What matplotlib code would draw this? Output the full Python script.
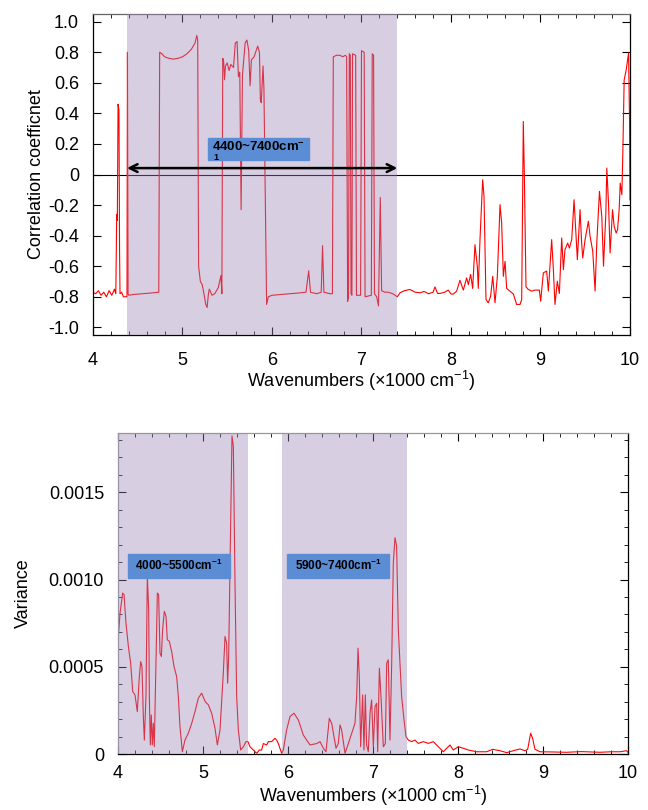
import matplotlib.pyplot as plt
import numpy as np
from matplotlib.ticker import MultipleLocator, FuncFormatter
from matplotlib.patches import Rectangle

plt.rcParams['font.family'] = ['Liberation Sans', 'DejaVu Sans']
plt.rcParams['mathtext.fontset'] = 'custom'
plt.rcParams['mathtext.rm'] = 'Liberation Sans'
plt.rcParams['mathtext.it'] = 'Liberation Sans:italic'
plt.rcParams['mathtext.bf'] = 'Liberation Sans:bold'

# correlation coefficient vs wavenumber (x1000 cm-1)
corr_x = [4.00, 4.03, 4.06, 4.09, 4.12, 4.15, 4.18, 4.21, 4.24, 4.255, 4.265, 4.272, 4.28, 4.29,
          4.297, 4.302, 4.32, 4.34, 4.36,
          4.38, 4.385, 4.392, 4.40, 4.45, 4.55, 4.65, 4.735, 4.745, 4.77, 4.80, 4.85, 4.90, 4.95,
          5.00, 5.05, 5.10, 5.14, 5.16, 5.17, 5.18, 5.20, 5.22, 5.24, 5.26, 5.275, 5.29, 5.30,
          5.33, 5.36, 5.40, 5.43, 5.44, 5.45, 5.46, 5.47, 5.48, 5.50, 5.52, 5.54, 5.57, 5.59,
          5.61, 5.625, 5.64, 5.655, 5.67, 5.70, 5.72, 5.74, 5.755, 5.77, 5.80, 5.84, 5.86, 5.87,
          5.88, 5.90, 5.91, 5.925, 5.94, 5.96, 6.00, 6.10, 6.20, 6.30, 6.38, 6.41, 6.43, 6.50,
          6.55, 6.565, 6.58, 6.65, 6.675, 6.685, 6.72, 6.76, 6.79, 6.82, 6.834, 6.845, 6.855,
          6.864, 6.875, 6.883, 6.893, 6.90, 6.935, 6.944, 6.99, 7.00, 7.03, 7.04, 7.11, 7.12,
          7.135, 7.145, 7.17, 7.19, 7.21, 7.225, 7.26, 7.30, 7.35, 7.40,
          7.43, 7.48, 7.54, 7.60, 7.654, 7.70, 7.75, 7.80, 7.821, 7.85, 7.877, 7.93, 7.970,
          8.00, 8.026, 8.063, 8.100, 8.138, 8.175, 8.194, 8.220, 8.242, 8.268, 8.294, 8.305,
          8.324, 8.354, 8.369, 8.391, 8.417, 8.443, 8.466, 8.492, 8.518, 8.548, 8.566, 8.585,
          8.604, 8.622, 8.659, 8.697, 8.734, 8.771, 8.790, 8.808, 8.820, 8.838, 8.864, 8.902,
          8.939, 8.987, 9.002, 9.032, 9.069, 9.088, 9.125, 9.144, 9.162, 9.188, 9.211, 9.237,
          9.256, 9.274, 9.304, 9.323, 9.349, 9.375, 9.397, 9.412, 9.442, 9.460, 9.472, 9.498,
          9.535, 9.554, 9.584, 9.610, 9.629, 9.659, 9.685, 9.704, 9.730, 9.741, 9.760, 9.778,
          9.805, 9.823, 9.846, 9.861, 9.879, 9.891, 9.909, 9.920, 9.935, 9.958, 9.984, 9.995,
          10.0]
corr_y = [-0.77, -0.78, -0.76, -0.79, -0.77, -0.80, -0.76, -0.79, -0.75, -0.78, -0.26, -0.30, 0.46, 0.42,
          -0.50, -0.78, -0.77, -0.80, -0.80,
          -0.80, 0.80, -0.78, -0.79, -0.785, -0.78, -0.775, -0.77, 0.80, 0.79, 0.77, 0.76, 0.755, 0.76,
          0.77, 0.79, 0.82, 0.86, 0.91, 0.88, -0.60, -0.70, -0.72, -0.78, -0.85, -0.87, -0.78, -0.75,
          -0.79, -0.78, -0.74, -0.66, -0.78, 0.76, 0.74, 0.62, 0.71, 0.73, 0.68, 0.72, 0.70, 0.86,
          0.87, 0.64, 0.67, -0.23, 0.65, 0.86, 0.88, 0.81, 0.58, 0.75, 0.77, 0.84, 0.80, 0.49,
          0.47, 0.71, 0.56, -0.16, -0.85, -0.80, -0.79, -0.785, -0.78, -0.775, -0.77, -0.63, -0.77, -0.78,
          -0.77, -0.465, -0.77, -0.78, -0.78, 0.77, 0.78, 0.78, 0.77, 0.78, 0.77, -0.83, -0.80,
          0.79, 0.78, -0.78, -0.79, 0.79, 0.78, -0.79, -0.79, 0.81, 0.80, -0.80, -0.79, 0.79,
          0.78, -0.78, -0.80, -0.86, -0.15, -0.76, -0.77, -0.77, -0.78, -0.80,
          -0.774, -0.76, -0.752, -0.77, -0.774, -0.765, -0.78, -0.77, -0.735, -0.778, -0.778, -0.77, -0.756,
          -0.782, -0.782, -0.763, -0.692, -0.756, -0.676, -0.72, -0.654, -0.745, -0.459, -0.60, -0.745,
          -0.426, -0.034, -0.143, -0.818, -0.839, -0.796, -0.666, -0.839, -0.666, -0.197, -0.317, -0.666,
          -0.568, -0.745, -0.763, -0.782, -0.85, -0.85, -0.818, 0.347, -0.012, -0.735, -0.752, -0.763,
          -0.756, -0.756, -0.829, -0.643, -0.632, -0.763, -0.426, -0.622, -0.85, -0.698, -0.778, -0.415,
          -0.622, -0.491, -0.448, -0.481, -0.426, -0.165, -0.404, -0.557, -0.23, -0.448, -0.546, -0.426,
          -0.306, -0.404, -0.502, -0.763, -0.448, -0.11, -0.274, -0.60, -0.263, 0.042, -0.187, -0.513,
          -0.23, -0.339, -0.383, -0.361, -0.23, -0.056, -0.132, 0.14, 0.619, 0.685, 0.794, 0.358,
          -0.165]

# variance vs wavenumber (x1000 cm-1)
var_x = [4.004, 4.024, 4.055, 4.071, 4.094, 4.122, 4.149, 4.173, 4.200, 4.227, 4.251, 4.267, 4.282,
         4.298, 4.310, 4.329, 4.345, 4.361, 4.369, 4.380, 4.392, 4.404, 4.416, 4.427, 4.463, 4.478,
         4.494, 4.510, 4.525, 4.545, 4.565, 4.580, 4.604, 4.631, 4.659, 4.690, 4.710, 4.729, 4.757,
         4.788, 4.827, 4.867, 4.906, 4.945, 4.984, 5.025, 5.063, 5.102, 5.141, 5.169, 5.200, 5.239,
         5.259, 5.278, 5.290, 5.302, 5.325, 5.341, 5.357, 5.376, 5.396, 5.416, 5.443, 5.475, 5.506,
         5.529, 5.553, 5.592, 5.631, 5.663, 5.690, 5.710, 5.749, 5.769, 5.808, 5.847, 5.867, 5.886,
         5.926, 5.945, 5.984, 6.024, 6.071, 6.122, 6.180, 6.259, 6.337, 6.377, 6.416, 6.447, 6.486,
         6.514, 6.565, 6.592, 6.612, 6.631, 6.671, 6.710, 6.749, 6.788, 6.808, 6.824, 6.839, 6.855,
         6.878, 6.894, 6.910, 6.925, 6.945, 6.965, 6.984, 7.004, 7.024, 7.043, 7.055, 7.075, 7.094,
         7.122, 7.145, 7.161, 7.180, 7.200, 7.220, 7.239, 7.259, 7.278, 7.298, 7.337, 7.365, 7.388,
         7.416, 7.455, 7.494, 7.533, 7.592, 7.651, 7.710, 7.769, 7.827, 7.867, 7.906, 7.945, 8.004,
         8.063, 8.122, 8.220, 8.337, 8.408, 8.494, 8.573, 8.651, 8.729, 8.788, 8.820, 8.855, 8.878,
         8.906, 8.965, 9.10, 9.278, 9.45, 9.671, 9.80, 9.906, 9.984, 10.0]
var_y = [0.000674, 0.000808, 0.000923, 0.000914, 0.000751, 0.000617, 0.000521, 0.000358, 0.000339,
         0.000243, 0.000444, 0.000530, 0.000502, 0.000215, 0.000080, 0.000329, 0.001020, 0.000828,
         0.000329, 0.000052, 0.000224, 0.000052, 0.000176, 0.000042, 0.000923, 0.000914, 0.000579,
         0.000559, 0.000713, 0.000818, 0.000789, 0.000655, 0.000646, 0.000588, 0.000502, 0.000444,
         0.000329, 0.000157, 0.000013, 0.000080, 0.000119, 0.000176, 0.000243, 0.000320, 0.000349,
         0.000301, 0.000282, 0.000234, 0.000148, 0.000052, 0.000138, 0.000464, 0.000674, 0.000636,
         0.000406, 0.000559, 0.001290, 0.001824, 0.001766, 0.001000, 0.000329, 0.000138, 0.000023,
         0.000042, 0.000071, 0.000071, 0.000042, 0.000023, 0.000004, 0.000023, 0.000023, 0.000060,
         0.000052, 0.000071, 0.000071, 0.000090, 0.000080, 0.000060,
         0.000004, 0.000023, 0.000138, 0.000215, 0.000234, 0.000195, 0.000109, 0.000052, 0.000060,
         0.000071, 0.000033, 0.000013, 0.000205, 0.000176, 0.000033, 0.000060, 0.000167, 0.000138,
         0.000004, 0.000060, 0.000119, 0.000176, 0.000329, 0.000607, 0.000444, 0.000042, 0.000339,
         0.000023, 0.000339, 0.000052, 0.000013, 0.000234, 0.000310, 0.000042, 0.000272, 0.000291,
         0.000013, 0.000492, 0.000329, 0.000042, 0.000060, 0.000521, 0.000540, 0.000080, 0.000521,
         0.001096, 0.001240, 0.001192, 0.000713, 0.000329, 0.000195, 0.000100,
         0.000080, 0.000071, 0.000080, 0.000061, 0.000071, 0.000061, 0.000071, 0.000042, 0.000013,
         0.000033, 0.000052, 0.000023, 0.000042, 0.000033, 0.000023, 0.000013, 0.000013, 0.000027,
         0.000019, 0.000008, 0.000019, 0.000029, 0.000019, 0.000027, 0.000119, 0.000090, 0.000027,
         0.000013, 0.000012, 0.000010, 0.000014, 0.000010, 0.000013, 0.000013, 0.000019, 0.000010]

top_band = (4.38, 7.40)
bottom_bands = [(4.0, 5.53), (5.93, 7.40)]
xlabel = r'Wavenumbers ($\times$1000 cm$^{-1}$)'

fig = plt.figure(figsize=(6.48, 8.1), dpi=100)
shade = '#9b85b8'
box_blue = '#5a8dd4'

# ---- top: correlation coefficient
ax1 = fig.add_axes([0.1435, 0.5864, 0.8287, 0.3963])
ax1.plot(corr_x, corr_y, color='red', lw=0.8, zorder=2)
ax1.axhline(0, color='black', lw=0.8, zorder=1)
ax1.axvspan(*top_band, color=shade, alpha=0.4, lw=0, zorder=3)
ax1.annotate('', xy=(top_band[0], 0.042), xytext=(top_band[1], 0.042),
             arrowprops=dict(arrowstyle='<->', lw=1.8, color='black',
                             shrinkA=0, shrinkB=0, mutation_scale=14), zorder=5)
ax1.add_patch(Rectangle((5.288, 0.097), 1.125, 0.145, color=box_blue, zorder=5))
ax1.text(5.33, 0.175, r'4400~7400cm$^{\mathbf{-}}$', fontsize=9.5, fontweight='bold',
         va='center', ha='left', zorder=6)
ax1.text(5.345, 0.112, '1', fontsize=6.5, fontweight='bold', va='center', ha='left', zorder=6)
ax1.set_xlim(4, 10)
ax1.set_ylim(-1.05, 1.05)
ax1.xaxis.set_major_locator(MultipleLocator(1))
ax1.xaxis.set_minor_locator(MultipleLocator(0.2))
ax1.yaxis.set_major_locator(MultipleLocator(0.2))
ax1.yaxis.set_major_formatter(FuncFormatter(lambda v, p: '0' if abs(v) < 1e-9 else f'{v:.1f}'))
ax1.set_ylabel('Correlation coefficnet', fontsize=13, labelpad=2)
ax1.set_xlabel(xlabel, fontsize=13, labelpad=0)

# ---- bottom: variance
ax2 = fig.add_axes([0.1821, 0.0691, 0.7870, 0.3963])
ax2.plot(var_x, var_y, color='red', lw=0.8, zorder=2)
for b in bottom_bands:
    ax2.axvspan(*b, color=shade, alpha=0.4, lw=0, zorder=3)
ax2.add_patch(Rectangle((4.121, 0.00101), 1.197, 0.000139, color=box_blue, zorder=5))
ax2.add_patch(Rectangle((5.99, 0.00101), 1.20, 0.000139, color=box_blue, zorder=5))
ax2.text(4.72, 0.00108, r'4000~5500cm$^{\mathbf{-1}}$', fontsize=8.5, fontweight='bold',
         ha='center', va='center', zorder=6)
ax2.text(6.59, 0.00108, r'5900~7400cm$^{\mathbf{-1}}$', fontsize=8.5, fontweight='bold',
         ha='center', va='center', zorder=6)
ax2.set_xlim(4, 10)
ax2.set_ylim(0, 0.00184)
ax2.xaxis.set_major_locator(MultipleLocator(1))
ax2.xaxis.set_minor_locator(MultipleLocator(0.2))
ax2.yaxis.set_major_locator(MultipleLocator(0.0005))
ax2.yaxis.set_minor_locator(MultipleLocator(0.0001))
ax2.yaxis.set_major_formatter(FuncFormatter(lambda v, p: '0' if abs(v) < 1e-12 else f'{v:.4f}'))
ax2.set_ylabel('Variance', fontsize=13, labelpad=12)
ax2.spines['top'].set_color('#999999')
ax2.spines['left'].set_color('#999999')

for ax in (ax1, ax2):
    ax.tick_params(which='both', direction='in', top=True, right=True, labelsize=13)
    ax.tick_params(which='major', length=6)
    ax.tick_params(which='minor', length=3)
    ax.tick_params(axis='y', which='major', pad=10)
    for s in ax.spines.values():
        s.set_linewidth(0.9)
ax1.tick_params(axis='x', which='major', pad=12)
ax2.tick_params(axis='x', which='major', pad=8)
ax2.set_xlabel(xlabel, fontsize=13, labelpad=1)
ax1.spines['top'].set_color('#666666')

fig.savefig('out.png', dpi=100)
